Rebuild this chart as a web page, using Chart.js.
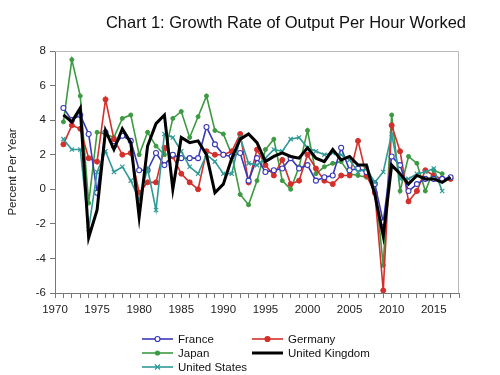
<!DOCTYPE html>
<html>
<head>
<meta charset="utf-8">
<script src="https://cdn.jsdelivr.net/npm/chart.js@4.4.1/dist/chart.umd.min.js"></script>
<style>
  html, body { margin: 0; padding: 0; background: #fff; }
  #wrap { width: 500px; height: 375px; }
</style>
</head>
<body>
<div id="wrap"><canvas id="chart" width="500" height="375"></canvas></div>
<script>
// Years on the x axis
const years = [1971, 1972, 1973, 1974, 1975, 1976, 1977, 1978, 1979, 1980,
  1981, 1982, 1983, 1984, 1985, 1986, 1987, 1988, 1989, 1990,
  1991, 1992, 1993, 1994, 1995, 1996, 1997, 1998, 1999, 2000,
  2001, 2002, 2003, 2004, 2005, 2006, 2007, 2008, 2009, 2010,
  2011, 2012, 2013, 2014, 2015, 2016, 2017];

// Growth rate of output per hour worked, percent per year
const france = [4.7, 4.0, 4.3, 3.2, -0.2, 3.3, 2.5, 3.1, 2.8, 1.1,
  1.1, 2.1, 1.4, 2.0, 1.8, 1.8, 1.8, 3.6, 2.6, 2.0,
  1.9, 2.1, 0.5, 1.8, 1.0, 1.1, 1.2, 1.8, 1.2, 1.4,
  0.5, 0.7, 0.8, 2.4, 1.1, 1.2, 1.0, 0.3, -1.9, 1.9,
  1.4, -0.1, 0.3, 0.6, 0.6, 0.6, 0.7];
const germany = [2.6, 3.7, 3.5, 1.8, 1.6, 5.2, 2.9, 2.0, 2.1, -0.2,
  0.4, 0.4, 2.4, 1.9, 0.9, 0.4, 0.0, 2.2, 2.0, 2.0,
  2.2, 3.2, 0.4, 2.3, 1.4, 0.8, 1.7, 0.3, 0.5, 2.0,
  1.2, 0.5, 0.3, 0.8, 0.8, 2.8, 0.8, -0.2, -5.85, 3.7,
  2.2, -0.7, -0.1, 1.1, 0.8, 0.6, 0.6];
const japan = [3.9, 7.5, 5.4, -0.8, 3.3, 3.2, 3.0, 4.1, 4.3, 2.0,
  3.3, 2.5, 2.0, 4.1, 4.5, 3.0, 4.2, 5.4, 3.4, 3.2,
  2.0, -0.3, -0.9, 0.5, 2.3, 2.9, 0.5, 0.0, 1.3, 3.4,
  0.9, 1.3, 1.5, 1.6, 0.9, 0.8, 0.7, 0.4, -4.4, 4.3,
  -0.1, 1.9, 1.5, -0.1, 1.1, 0.9, null];
const unitedKingdom = [4.3, 3.9, 4.7, -2.8, -1.2, 3.4, 2.3, 3.5, 2.7, -1.6,
  2.5, 3.8, 4.3, 0.0, 3.0, 2.7, 2.8, 2.0, -0.2, 0.3,
  1.8, 2.9, 3.2, 2.7, 1.6, 1.9, 2.1, 1.9, 1.8, 2.4,
  1.8, 1.6, 2.3, 1.7, 1.9, 1.4, 1.4, -0.3, -2.7, 1.4,
  0.9, 0.3, 0.8, 0.6, 0.6, 0.4, 0.7];
const unitedStates = [2.9, 2.3, 2.3, -2.3, 1.0, 2.2, 1.0, 1.3, 0.5, -0.6,
  1.2, -1.2, 3.2, 3.0, 2.2, 1.3, 0.9, 2.0, 1.6, 0.9,
  0.9, 3.0, 1.5, 1.4, 1.8, 2.3, 2.2, 2.9, 3.0, 2.4,
  2.2, 2.0, 2.1, 2.0, 1.7, 1.0, 1.2, 0.4, 1.0, 3.2,
  0.6, 0.6, 0.9, 1.0, 1.2, -0.1, null];

// Y axis range and step
const yMin = -6, yMax = 8, yStep = 2;

const FONT = '"Liberation Sans", Arial, sans-serif';

function points(values) {
  return years.map((yr, i) => ({ x: yr, y: values[i] }));
}

// Title, plot frame and two-column legend drawn by hand
const decor = {
  id: 'decor',
  afterDraw(chart) {
    const ctx = chart.ctx;
    const a = chart.chartArea;
    ctx.save();

    // light frame on top and right
    ctx.strokeStyle = '#b8b8b8';
    ctx.lineWidth = 1;
    ctx.beginPath();
    ctx.moveTo(a.left, a.top + 0.5);
    ctx.lineTo(a.right - 0.5, a.top + 0.5);
    ctx.lineTo(a.right - 0.5, a.bottom);
    ctx.stroke();

    // title
    ctx.fillStyle = '#111';
    ctx.font = '16.5px ' + FONT;
    ctx.textAlign = 'center';
    ctx.textBaseline = 'middle';
    ctx.fillText('Chart 1: Growth Rate of Output Per Hour Worked', 286, 23);

    // legend
    const slots = [[142, 339], [252, 339], [142, 353], [252, 353], [142, 367]];
    ctx.font = '11.5px ' + FONT;
    ctx.textAlign = 'left';
    chart.data.datasets.forEach((ds, i) => {
      const [x0, y] = slots[i];
      const x1 = x0 + 31, xm = (x0 + x1) / 2;
      ctx.strokeStyle = ds.borderColor;
      ctx.lineWidth = ds.borderWidth;
      ctx.beginPath();
      ctx.moveTo(x0, y);
      ctx.lineTo(x1, y);
      ctx.stroke();
      ctx.lineWidth = 1.2;
      if (ds.pointStyle === 'crossRot') {
        const r = 2.5;
        ctx.beginPath();
        ctx.moveTo(xm - r, y - r); ctx.lineTo(xm + r, y + r);
        ctx.moveTo(xm - r, y + r); ctx.lineTo(xm + r, y - r);
        ctx.stroke();
      } else if (ds.pointRadius > 0) {
        ctx.beginPath();
        ctx.arc(xm, y, ds.pointRadius, 0, Math.PI * 2);
        ctx.fillStyle = ds.pointBackgroundColor;
        ctx.fill();
        ctx.stroke();
      }
      ctx.fillStyle = '#111';
      ctx.fillText(ds.label, x1 + 5, y + 0.5);
    });
    ctx.restore();
  }
};

const ctx = document.getElementById('chart').getContext('2d');
new Chart(ctx, {
  type: 'line',
  data: {
    datasets: [
      {
        label: 'France', data: points(france), order: 2,
        borderColor: '#3838b8', borderWidth: 1.6,
        pointStyle: 'circle', pointRadius: 2.5,
        pointBackgroundColor: '#ffffff', pointBorderColor: '#3838b8', pointBorderWidth: 1.1
      },
      {
        label: 'Germany', data: points(germany), order: 3,
        borderColor: '#d42f2b', borderWidth: 1.6,
        pointStyle: 'circle', pointRadius: 2.5,
        pointBackgroundColor: '#d42f2b', pointBorderColor: '#d42f2b', pointBorderWidth: 1
      },
      {
        label: 'Japan', data: points(japan), order: 4,
        borderColor: '#3d9a42', borderWidth: 1.6,
        pointStyle: 'circle', pointRadius: 2,
        pointBackgroundColor: '#3d9a42', pointBorderColor: '#3d9a42', pointBorderWidth: 1
      },
      {
        label: 'United Kingdom', data: points(unitedKingdom), order: 0,
        borderColor: '#000000', borderWidth: 3,
        pointRadius: 0
      },
      {
        label: 'United States', data: points(unitedStates), order: 1,
        borderColor: '#2f9a98', borderWidth: 1.6,
        pointStyle: 'crossRot', pointRadius: 3,
        pointBackgroundColor: '#2f9a98', pointBorderColor: '#2f9a98', pointBorderWidth: 1.2
      }
    ]
  },
  options: {
    responsive: false,
    animation: false,
    events: [],
    layout: { padding: { left: 0, top: 51, right: 41, bottom: 57 } },
    plugins: {
      legend: { display: false },
      title: { display: false },
      tooltip: { enabled: false }
    },
    elements: { line: { tension: 0 } },
    scales: {
      x: {
        type: 'linear',
        min: 1970,
        max: 2018,
        afterFit: s => { s.height = 25; },
        border: { color: '#777', width: 1 },
        grid: { drawOnChartArea: false, drawTicks: true, tickLength: 5, color: '#777' },
        ticks: {
          stepSize: 1,
          autoSkip: false,
          maxRotation: 0,
          padding: 5,
          color: '#222',
          font: { family: FONT, size: 11.5 },
          callback: v => (v % 5 === 0 ? String(v) : '')
        }
      },
      y: {
        min: yMin,
        max: yMax,
        afterFit: s => { s.width = 55; },
        border: { color: '#777', width: 1 },
        grid: { drawOnChartArea: false, drawTicks: true, tickLength: 5, color: '#777' },
        title: {
          display: true,
          text: 'Percent Per Year',
          color: '#222',
          font: { family: FONT, size: 11.5 },
          padding: { top: 6, bottom: 0 }
        },
        ticks: {
          stepSize: yStep,
          padding: 4,
          color: '#222',
          font: { family: FONT, size: 11.5 },
          callback: v => String(v)
        }
      }
    }
  },
  plugins: [decor]
});
</script>
</body>
</html>
